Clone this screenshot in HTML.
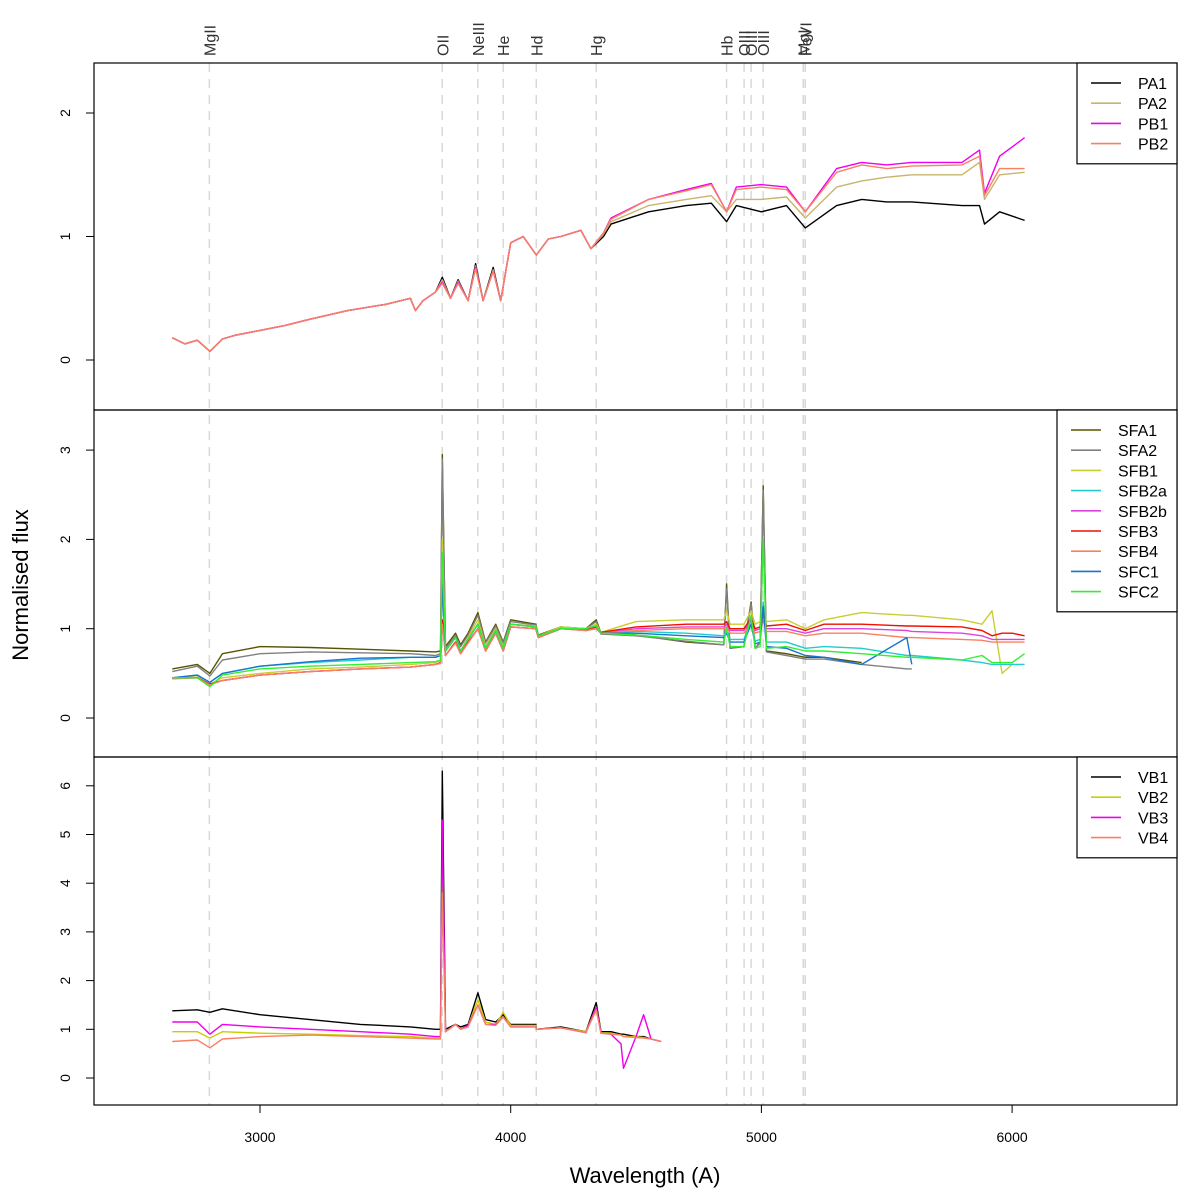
<!DOCTYPE html>
<html><head><meta charset="utf-8"><style>
body{margin:0;background:#fff}
svg{display:block;font-family:"Liberation Sans",sans-serif}
</style></head><body>
<svg id="c" width="1200" height="1191"></svg>
<script>
// ---- data ----
const lineNames=["MgII","OII","NeIII","He","Hd","Hg","Hb","OIII","OIII","OIII","MgI","FeVI"];
const lineWaves=[2798,3727,3869,3970,4102,4341,4861,4931,4959,5007,5167,5175];
const xTicks=[3000,4000,5000,6000];

const gridA=[2650,2700,2750,2800,2850,2900,3000,3100,3200,3350,3500,3600,3620,3650,3700,3727,3760,3790,3830,3860,3890,3930,3960,4000,4050,4102,4150,4200,4280,4320,4370,4400,4550,4700,4800,4861,4900,5000,5100,5175,5300,5400,5500,5600,5800,5870,5890,5950,6050];
const PA1=[0.18,0.13,0.16,0.07,0.17,0.2,0.24,0.28,0.33,0.4,0.45,0.5,0.4,0.48,0.55,0.67,0.5,0.65,0.48,0.78,0.48,0.75,0.48,0.95,1.0,0.85,0.98,1.0,1.05,0.9,1.0,1.1,1.2,1.25,1.27,1.12,1.25,1.2,1.25,1.07,1.25,1.3,1.28,1.28,1.25,1.25,1.1,1.2,1.13];
const PA2=[0.18,0.13,0.16,0.07,0.17,0.2,0.24,0.28,0.33,0.4,0.45,0.5,0.4,0.48,0.55,0.65,0.5,0.64,0.48,0.76,0.48,0.73,0.48,0.95,1.0,0.85,0.98,1.0,1.05,0.9,1.02,1.12,1.25,1.3,1.33,1.2,1.3,1.3,1.32,1.15,1.4,1.45,1.48,1.5,1.5,1.6,1.3,1.5,1.52];
const PB1=[0.18,0.13,0.16,0.07,0.17,0.2,0.24,0.28,0.33,0.4,0.45,0.5,0.4,0.48,0.55,0.63,0.5,0.63,0.48,0.75,0.48,0.72,0.48,0.95,1.0,0.85,0.98,1.0,1.05,0.9,1.03,1.15,1.3,1.38,1.43,1.2,1.4,1.42,1.4,1.2,1.55,1.6,1.58,1.6,1.6,1.7,1.35,1.65,1.8];
const PB2=[0.18,0.13,0.16,0.07,0.17,0.2,0.24,0.28,0.33,0.4,0.45,0.5,0.4,0.48,0.55,0.62,0.5,0.62,0.48,0.74,0.48,0.72,0.48,0.95,1.0,0.85,0.98,1.0,1.05,0.9,1.03,1.14,1.3,1.37,1.42,1.2,1.38,1.4,1.38,1.2,1.52,1.58,1.55,1.57,1.58,1.65,1.33,1.55,1.55];

const gridM=[2650,2750,2800,2850,3000,3200,3400,3600,3700,3720,3727,3740,3780,3800,3830,3869,3900,3940,3970,4000,4100,4110,4200,4300,4341,4360,4500,4700,4850,4861,4875,4930,4959,4975,4995,5007,5020,5100,5175,5250,5400,5580,5600,5800,5880,5920,5960,6000,6050];
const SFA1=[0.55,0.6,0.5,0.72,0.8,0.79,0.77,0.75,0.74,0.75,2.95,0.8,0.95,0.82,0.95,1.18,0.85,1.05,0.85,1.1,1.05,0.93,1.02,1.0,1.1,0.95,0.93,0.85,0.82,1.5,0.78,0.8,1.3,0.78,0.85,2.6,0.75,0.72,0.68,0.68,0.62,null,null,null,null,null,null,null,null];
const SFA2=[0.52,0.58,0.47,0.65,0.72,0.74,0.73,0.72,0.7,0.72,2.9,0.78,0.92,0.8,0.93,1.15,0.84,1.03,0.84,1.08,1.04,0.92,1.01,1.0,1.08,0.94,0.92,0.86,0.82,1.45,0.78,0.8,1.28,0.78,0.84,2.55,0.74,0.7,0.66,0.66,0.6,0.55,0.55,null,null,null,null,null,null];
const SFB1=[0.45,0.46,0.38,0.45,0.5,0.55,0.57,0.6,0.62,0.65,2.0,0.75,0.9,0.75,0.9,1.1,0.8,1.0,0.8,1.05,1.03,0.92,1.02,1.0,1.05,0.96,1.08,1.1,1.1,1.2,1.05,1.05,1.2,1.05,1.08,1.2,1.08,1.1,1.0,1.1,1.18,1.15,1.15,1.1,1.05,1.2,0.5,0.6,null];
const SFB2a=[0.45,0.48,0.4,0.5,0.58,0.62,0.65,0.68,0.68,0.7,1.55,0.75,0.9,0.75,0.88,1.05,0.78,0.98,0.78,1.05,1.02,0.92,1.0,1.0,1.03,0.95,0.97,0.95,0.92,0.98,0.88,0.88,1.1,0.86,0.88,1.3,0.85,0.85,0.78,0.8,0.78,0.7,0.7,0.65,0.62,0.6,0.6,0.6,0.6];
const SFB2b=[0.44,0.45,0.38,0.42,0.48,0.52,0.55,0.57,0.6,0.62,1.1,0.7,0.85,0.72,0.85,1.0,0.75,0.95,0.75,1.02,1.0,0.9,1.0,0.98,1.0,0.95,1.0,1.02,1.02,1.05,0.98,0.98,1.1,0.98,1.0,1.15,1.0,1.0,0.95,1.0,1.0,0.98,0.97,0.95,0.92,0.88,0.88,0.88,0.88];
const SFB3=[0.45,0.45,0.38,0.42,0.48,0.52,0.55,0.57,0.6,0.62,1.1,0.7,0.85,0.72,0.85,1.0,0.75,0.95,0.75,1.02,1.0,0.9,1.0,0.99,1.02,0.96,1.02,1.05,1.05,1.08,1.0,1.0,1.12,1.0,1.02,1.2,1.03,1.05,0.98,1.05,1.05,1.03,1.03,1.02,0.98,0.92,0.95,0.95,0.92];
const SFB4=[0.44,0.45,0.37,0.42,0.48,0.52,0.55,0.57,0.6,0.61,1.05,0.7,0.84,0.72,0.84,1.0,0.75,0.95,0.75,1.02,1.0,0.9,1.0,0.98,1.0,0.95,0.98,1.0,1.0,1.02,0.95,0.95,1.05,0.95,0.97,1.1,0.97,0.97,0.92,0.95,0.95,0.9,0.9,0.88,0.87,0.85,0.85,0.85,0.85];
const SFC1=[0.45,0.48,0.4,0.5,0.58,0.63,0.67,0.68,0.68,0.7,1.5,0.75,0.9,0.75,0.88,1.05,0.78,0.98,0.78,1.05,1.02,0.92,1.0,1.0,1.03,0.95,0.95,0.92,0.9,0.95,0.85,0.85,1.05,0.83,0.85,1.25,0.8,0.78,0.7,0.68,0.6,0.9,0.6,null,null,null,null,null,null];
const SFC2=[0.45,0.45,0.35,0.48,0.55,0.58,0.6,0.62,0.63,0.65,1.85,0.75,0.9,0.75,0.88,1.05,0.78,0.98,0.78,1.05,1.02,0.92,1.0,1.0,1.03,0.95,0.93,0.88,0.85,1.0,0.8,0.8,1.15,0.78,0.8,2.0,0.78,0.8,0.75,0.75,0.72,0.68,0.68,0.65,0.7,0.62,0.62,0.62,0.72];

const gridB=[2650,2750,2800,2850,3000,3200,3400,3600,3700,3720,3727,3740,3780,3800,3830,3869,3900,3940,3970,4000,4100,4102,4200,4300,4341,4360,4400,4440,4450,4500,4530,4560,4600];
const VB1=[1.38,1.4,1.35,1.42,1.3,1.2,1.1,1.05,1.0,1.0,6.3,1.0,1.1,1.05,1.1,1.75,1.2,1.15,1.3,1.1,1.1,1.0,1.05,0.95,1.55,0.95,0.95,0.9,0.9,0.85,0.85,0.8,0.75];
const VB2=[0.95,0.95,0.82,0.95,0.92,0.9,0.87,0.85,0.82,0.82,4.5,0.95,1.1,1.0,1.08,1.6,1.15,1.1,1.35,1.08,1.08,1.0,1.03,0.95,1.45,0.93,0.92,0.88,0.85,0.85,0.83,0.8,0.75];
const VB3=[1.15,1.15,0.9,1.1,1.05,1.0,0.95,0.9,0.85,0.85,5.3,0.95,1.1,1.0,1.08,1.5,1.1,1.1,1.25,1.05,1.05,1.0,1.03,0.93,1.45,0.92,0.9,0.7,0.2,0.85,1.3,0.8,0.75];
const VB4=[0.75,0.78,0.62,0.8,0.85,0.88,0.85,0.82,0.8,0.8,3.8,0.95,1.1,1.0,1.05,1.5,1.1,1.08,1.25,1.05,1.05,1.0,1.03,0.93,1.4,0.92,0.9,0.88,0.85,0.83,0.82,0.8,0.75];

// ---- layout ----
const NS="http://www.w3.org/2000/svg";
const svg=document.getElementById('c');
const L=94,R=1177;
const X=w=>260+(w-3000)*0.2507;
const panels=[
 {top:63,bot:410,y0:360,k:123.5,ticks:[0,1,2],grid:gridA,series:[["PA1",PA1,"#000000"],["PA2",PA2,"#c8b46e"],["PB1",PB1,"#ee00ee"],["PB2",PB2,"#fa8064"]],leg:[1077,63,100]},
 {top:410,bot:757,y0:718,k:89.3,ticks:[0,1,2,3],grid:gridM,series:[["SFA1",SFA1,"#555500"],["SFA2",SFA2,"#808080"],["SFB1",SFB1,"#cccc33"],["SFB2a",SFB2a,"#22cccc"],["SFB2b",SFB2b,"#dd44dd"],["SFB3",SFB3,"#ee1100"],["SFB4",SFB4,"#fa8064"],["SFC1",SFC1,"#1874cd"],["SFC2",SFC2,"#33ee33"]],leg:[1057,410,120]},
 {top:757,bot:1105,y0:1078,k:48.7,ticks:[0,1,2,3,4,5,6],grid:gridB,series:[["VB1",VB1,"#000000"],["VB2",VB2,"#cccc00"],["VB3",VB3,"#ee00ee"],["VB4",VB4,"#fa8064"]],leg:[1077,757,100]}
];
function el(t,a,p){const e=document.createElementNS(NS,t);for(const k in a)e.setAttribute(k,a[k]);(p||svg).appendChild(e);return e;}

lineWaves.forEach((w,i)=>{
 const l=el('line',{x1:X(w),x2:X(w),y1:63,y2:1105,stroke:'#d8d8d8','stroke-width':1.5,'stroke-dasharray':'9,7'});
 
 
 const t=el('text',{x:0,y:0,transform:`translate(${X(w)+6},56) rotate(-90)`,'font-size':16,fill:'#333'});
 t.textContent=lineNames[i];
 
 
});

panels.forEach((p,pi)=>{
 const g=el('g',{});
 
 
 p.series.forEach(([nm,vals,col])=>{
  let d='',pen=false;
  p.grid.forEach((w,i)=>{const v=vals[i];if(v===null||v===undefined){pen=false;return;}
   d+=(pen?'L':'M')+X(w).toFixed(1)+','+(p.y0-v*p.k).toFixed(1);pen=true;});
  const path=el('path',{d:d,fill:'none',stroke:col,'stroke-width':1.4,'stroke-linejoin':'round'},g);
  
  
 });
 const fr=el('rect',{x:L,y:p.top,width:R-L,height:p.bot-p.top,fill:'none',stroke:'#000','stroke-width':1.2});
 
 
 p.ticks.forEach(v=>{
  const y=p.y0-v*p.k;
  el('line',{x1:L-8,x2:L,y1:y,y2:y,stroke:'#000'});
  const t=el('text',{x:0,y:0,transform:`translate(70,${y}) rotate(-90)`,'font-size':14,'text-anchor':'middle',fill:'#000'});
  t.textContent=v;
  
  
 });
 const [lx,ly,lw]=p.leg, n=p.series.length;
 const lg=el('g',{});
 
 
 el('rect',{x:lx,y:ly,width:lw,height:n*20.2+20,fill:'#fff',stroke:'#000','stroke-width':1.2},lg);
 p.series.forEach(([nm,,col],i)=>{
  const yy=ly+20+i*20.2;
  el('line',{x1:lx+14,x2:lx+44,y1:yy,y2:yy,stroke:col,'stroke-width':1.6},lg);
  const t=el('text',{x:lx+61,y:yy+6,'font-size':16,fill:'#000'},lg);
  t.textContent=nm;
  
  
 });
});

xTicks.forEach(v=>{
 el('line',{x1:X(v),x2:X(v),y1:1105,y2:1113,stroke:'#000'});
 const t=el('text',{x:X(v),y:1142,'font-size':14,'text-anchor':'middle'});
 t.textContent=v;
 
 
});
const xt=el('text',{x:645,y:1183,'font-size':22,'text-anchor':'middle'});
xt.textContent='Wavelength (A)';


const yt=el('text',{x:0,y:0,transform:'translate(28,585) rotate(-90)','font-size':22,'text-anchor':'middle'});
yt.textContent='Normalised flux';


</script>
</body></html>
